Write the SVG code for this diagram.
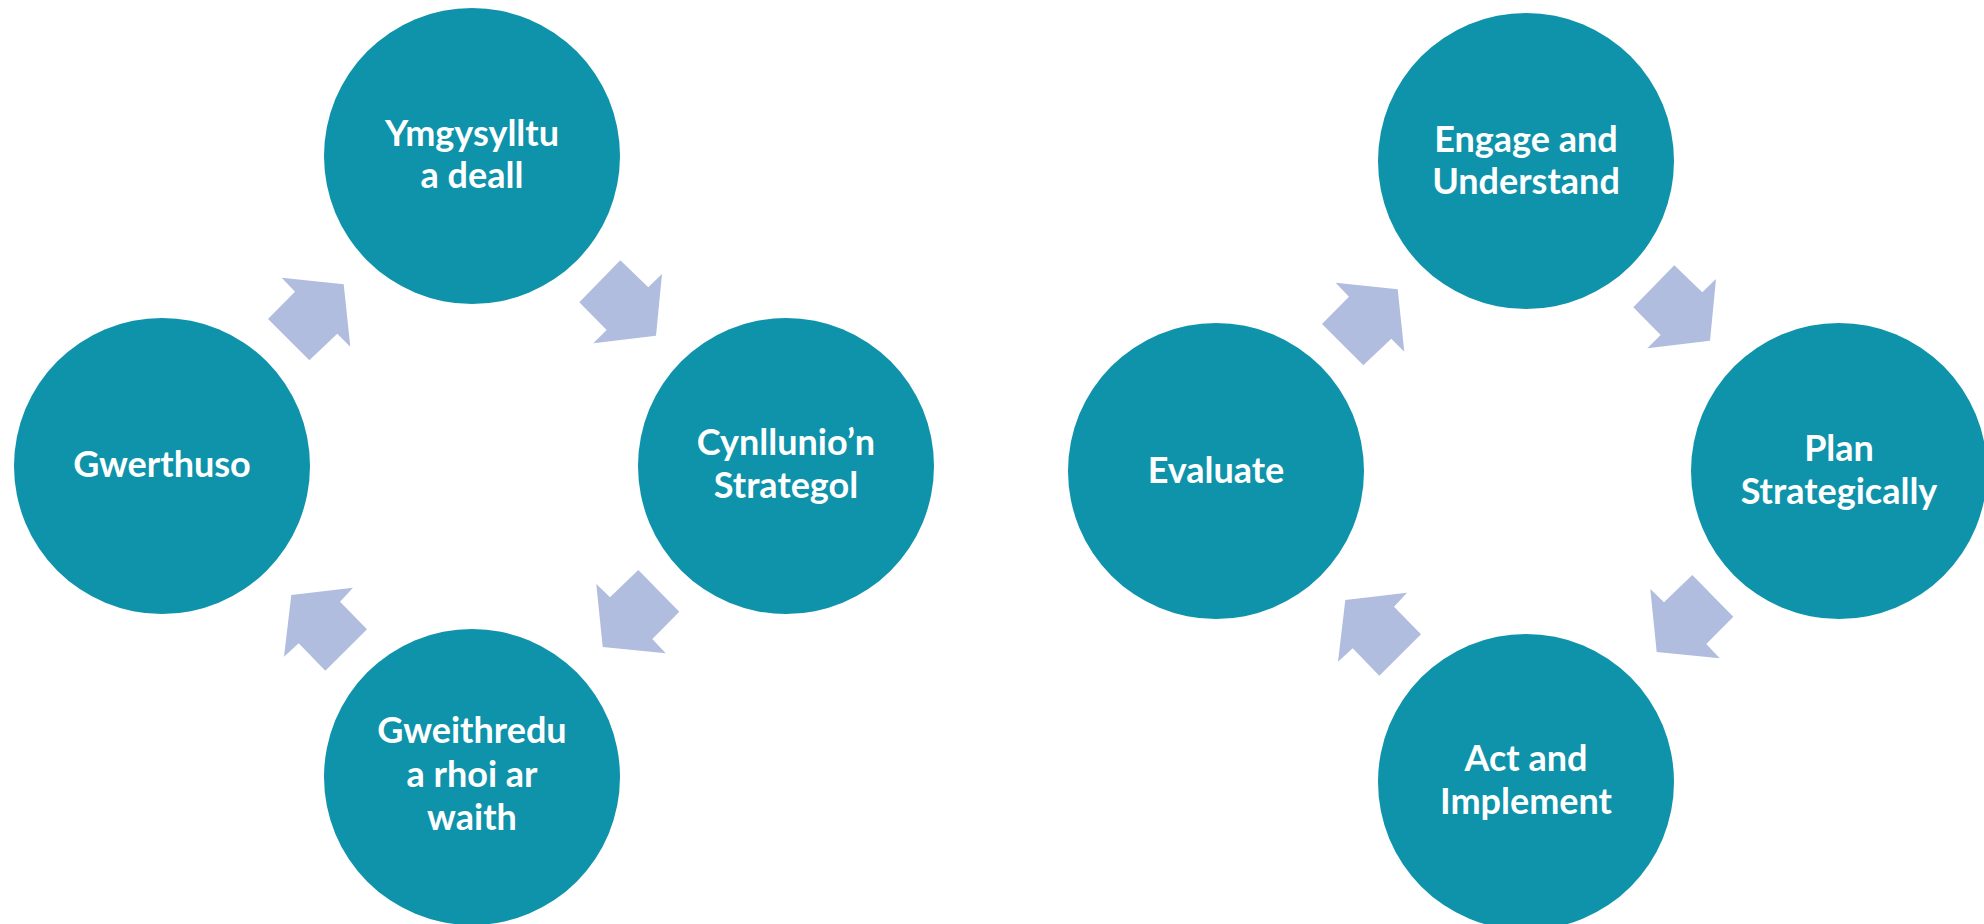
<svg xmlns="http://www.w3.org/2000/svg" width="1984" height="924" viewBox="0 0 1984 924">
  <style>
    .node { fill: #0E93AA; }
    .lbl { fill: #FFFFFF; font-family: Lato, "Open Sans", "Liberation Sans", sans-serif; font-weight: 700; font-size: 36px; text-anchor: middle; }
    .arrow { fill: #B1BDDF; }
  </style>
  <rect width="1984" height="924" fill="#FFFFFF"/>

  <g id="welsh">
    <g id="connectors-cy">
      <polygon class="arrow" points="281.7,277.7 343.7,284.3 350.3,346.7 337.3,333.7 309.3,360.3 268,319 295,291.7"/>
      <polygon class="arrow" points="620.3,260.3 648.3,287.3 662,274 656,335.7 593.3,343.3 606.7,330 579.3,302.3"/>
      <polygon class="arrow" points="638.3,570 679.3,611.7 652.3,639 665.7,653.3 602.7,647 596.3,584 610,597.3"/>
      <polygon class="arrow" points="291.3,595 353,587.7 340,601.7 367,629.3 325.3,670.7 298.7,643.3 284,656.7"/>
    </g>
    <g id="node-ymgysylltu">
      <circle class="node" cx="472" cy="156" r="148"/>
      <text class="lbl" x="472" y="146">Ymgysylltu</text>
      <text class="lbl" x="472" y="188">a deall</text>
    </g>
    <g id="node-cynllunio">
      <circle class="node" cx="786" cy="466" r="148"/>
      <text class="lbl" x="786" y="455">Cynllunio’n</text>
      <text class="lbl" x="786" y="498">Strategol</text>
    </g>
    <g id="node-gweithredu">
      <circle class="node" cx="472" cy="777" r="148"/>
      <text class="lbl" x="472" y="743">Gweithredu</text>
      <text class="lbl" x="472" y="787">a rhoi ar</text>
      <text class="lbl" x="472" y="830">waith</text>
    </g>
    <g id="node-gwerthuso">
      <circle class="node" cx="162" cy="466" r="148"/>
      <text class="lbl" x="162" y="477">Gwerthuso</text>
    </g>
  </g>

  <g id="english" transform="translate(1054,5)">
    <g id="connectors-en">
      <polygon class="arrow" points="281.7,277.7 343.7,284.3 350.3,346.7 337.3,333.7 309.3,360.3 268,319 295,291.7"/>
      <polygon class="arrow" points="620.3,260.3 648.3,287.3 662,274 656,335.7 593.3,343.3 606.7,330 579.3,302.3"/>
      <polygon class="arrow" points="638.3,570 679.3,611.7 652.3,639 665.7,653.3 602.7,647 596.3,584 610,597.3"/>
      <polygon class="arrow" points="291.3,595 353,587.7 340,601.7 367,629.3 325.3,670.7 298.7,643.3 284,656.7"/>
    </g>
    <g id="node-engage">
      <circle class="node" cx="472" cy="156" r="148"/>
      <text class="lbl" x="472" y="147">Engage and</text>
      <text class="lbl" x="472" y="189">Understand</text>
    </g>
    <g id="node-plan">
      <circle class="node" cx="785" cy="466" r="148"/>
      <text class="lbl" x="785" y="456">Plan</text>
      <text class="lbl" x="785" y="499">Strategically</text>
    </g>
    <g id="node-act">
      <circle class="node" cx="472" cy="777" r="148"/>
      <text class="lbl" x="472" y="766">Act and</text>
      <text class="lbl" x="472" y="809">Implement</text>
    </g>
    <g id="node-evaluate">
      <circle class="node" cx="162" cy="466" r="148"/>
      <text class="lbl" x="162" y="478">Evaluate</text>
    </g>
  </g>
</svg>
